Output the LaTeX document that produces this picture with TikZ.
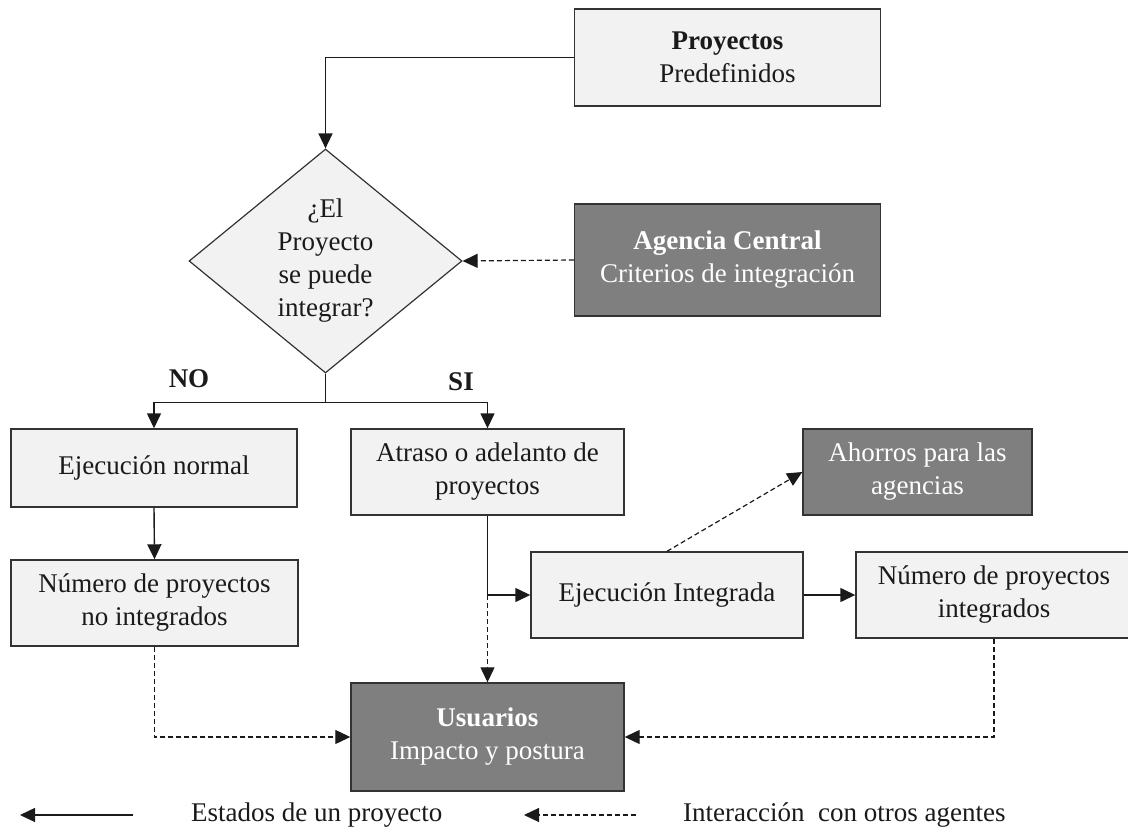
\documentclass[tikz,border=0pt]{standalone}
\usepackage{fontspec}
\setmainfont{Liberation Serif}
\usetikzlibrary{arrows.meta,shapes.geometric}
\definecolor{lightfill}{HTML}{F2F2F2}
\definecolor{darkfill}{HTML}{7F7F7F}
\definecolor{edge}{HTML}{333333}
\definecolor{ink}{HTML}{1A1A1A}
\begin{document}
\begin{tikzpicture}[x=1pt,y=-1pt,
  every node/.style={font=\fontsize{27}{33}\selectfont, text=ink},
  lightbox/.style={draw=edge, line width=1.4pt, fill=lightfill, align=center, inner sep=0pt},
  darkbox/.style={draw=edge, line width=1.4pt, fill=darkfill, align=center, inner sep=0pt, text=white},
  flow/.style={draw=ink, line width=1.4pt, -{Triangle[length=15pt,width=14pt]}},
  link/.style={draw=ink, line width=1.2pt, dash pattern=on 5pt off 3pt, -{Triangle[length=15pt,width=14pt]}},
  plain/.style={draw=ink, line width=1.4pt},
  tag/.style={font=\fontsize{27}{33}\selectfont\bfseries}
]
\useasboundingbox (0,0) rectangle (1128,829);

% boxes of the flow
\node[lightbox, minimum width=306pt, minimum height=97pt] (proj) at (727.5,57.5)
  {\textbf{Proyectos}\\Predefinidos};
\node[darkbox, minimum width=306pt, minimum height=112pt] (agen) at (727.5,260)
  {\textbf{Agencia Central}\\Criterios de integración};
\node[diamond, draw=edge, line width=1.2pt, fill=lightfill, inner sep=0pt,
      minimum width=273pt, minimum height=224pt] (dec) at (325.5,261) {};
\node[align=center] (dectext) at (dec.center) {¿El\\Proyecto\\se puede\\integrar?};

\node[lightbox, minimum width=286pt, minimum height=78pt] (ejn) at (154,468)
  {Ejecución normal};
\node[lightbox, minimum width=287pt, minimum height=86pt] (nni) at (154.5,603)
  {Número de proyectos\\no integrados};
\node[lightbox, minimum width=273pt, minimum height=86pt] (atr) at (487.5,472)
  {Atraso o adelanto de\\proyectos};
\node[darkbox, minimum width=229pt, minimum height=86pt] (aho) at (917.5,472)
  {Ahorros para las\\agencias};
\node[lightbox, minimum width=272pt, minimum height=86pt] (eji) at (667,595)
  {Ejecución Integrada};
\node[lightbox, minimum width=276pt, minimum height=86pt] (ni) at (994,595)
  {Número de proyectos\\integrados};
\node[darkbox, minimum width=273pt, minimum height=108pt] (usu) at (487.5,737)
  {\textbf{Usuarios}\\Impacto y postura};

% branch labels
\node[tag] (no) at (189,379) {NO};
\node[tag] (si) at (461,382) {SI};

% project states
\draw[flow] (proj.west) -| (dec.north);
\draw[plain] (dec.south) -- ++(0,29) coordinate (split);
\draw[flow] (split) -| (ejn.north);
\draw[flow] (split) -| (atr.north);
\draw[flow] (ejn.south) -- (nni.north);
\draw[plain] (atr.south) -- (atr.south |- eji.west) coordinate (join);
\draw[flow] (join) -- (eji.west);
\draw[flow] (eji.east) -- (ni.west);

% interactions with other agents
\draw[link] (agen.west) -- (dec.east);
\draw[link] (eji.north) -- (aho.west);
\draw[link] (join) -- (usu.north);
\draw[link] (nni.south) |- (usu.west);
\draw[link] (ni.south) |- (usu.east);

% legend
\coordinate (solidfrom) at (133,815);
\coordinate (solidto) at (20,815);
\coordinate (dashfrom) at (636,815);
\coordinate (dashto) at (524,815);
\draw[flow] (solidfrom) -- (solidto);
\draw[link] (dashfrom) -- (dashto);
\node[anchor=west, inner sep=0pt] (legstate) at (191,815) {Estados de un proyecto};
\node[anchor=west, inner sep=0pt] (legagent) at (683,815) {Interacción\ \ con otros agentes};
\end{tikzpicture}
\end{document}
